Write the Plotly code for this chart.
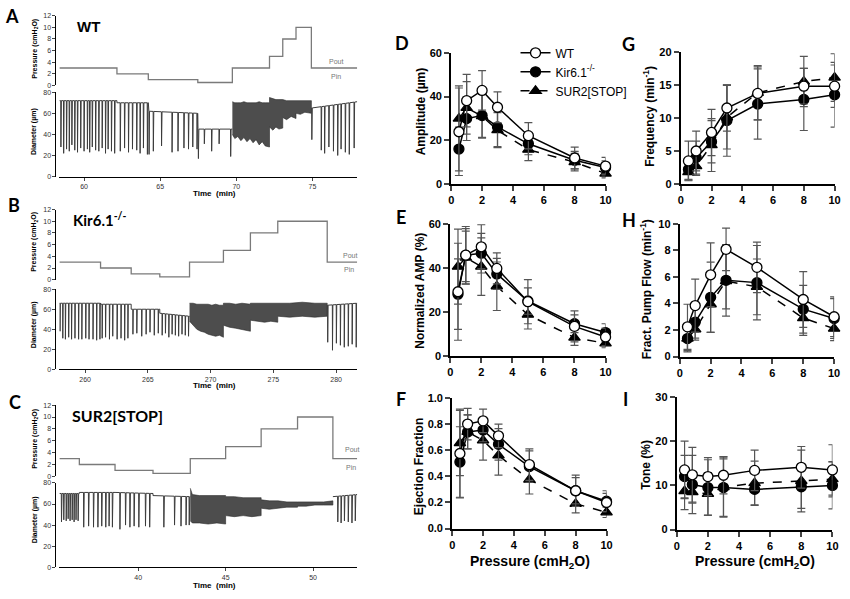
import plotly.graph_objects as go

W, H = 850, 599

# ---------------- summary data (panels D-I) ----------------
pressures = [0.5, 1, 2, 3, 5, 8, 10]
group_names = ["WT", "Kir6.1<sup>-/-</sup>", "SUR2[STOP]"]

amp_wt = [23.9, 38.1, 42.8, 35.1, 22.1, 11.9, 8.2]
amp_wt_sd = [20, 12, 9, 7, 6, 5, 4]
amp_kir = [16.0, 29.9, 31.3, 26.1, 18.4, 10.9, 7.6]
amp_kir_sd = [10, 10, 10, 9, 5, 4, 3]
amp_sur = [29.9, 34.8, 31.0, 24.6, 15.7, 10.0, 4.8]
amp_sur_sd = [15, 12, 10, 8, 5, 4, 2]

namp_wt = [29.2, 45.8, 49.6, 39.8, 24.7, 13.5, 8.7]
namp_wt_sd = [22, 13, 10, 7, 10, 7, 4]
namp_kir = [28.1, 45.8, 46.7, 37.3, 25.0, 14.7, 10.7]
namp_kir_sd = [16, 12, 9, 7, 6, 4, 4]
namp_sur = [40.6, 44.7, 40.6, 31.7, 18.8, 8.4, 5.8]
namp_sur_sd = [17, 12, 13, 11, 6.5, 3.5, 2]

ef_wt = [0.575, 0.80, 0.825, 0.71, 0.49, 0.29, 0.20]
ef_wt_sd = [0.34, 0.12, 0.09, 0.09, 0.12, 0.12, 0.07]
ef_kir = [0.51, 0.74, 0.755, 0.645, 0.475, 0.29, 0.21]
ef_kir_sd = [0.27, 0.13, 0.09, 0.12, 0.12, 0.10, 0.08]
ef_sur = [0.655, 0.74, 0.675, 0.56, 0.375, 0.19, 0.125]
ef_sur_sd = [0.25, 0.13, 0.15, 0.15, 0.11, 0.07, 0.04]

freq_wt = [3.5, 5.0, 7.8, 11.5, 13.7, 14.8, 14.8]
freq_wt_sd = [3.0, 3.0, 3.5, 3.5, 4.0, 2.7, 3.2]
freq_kir = [2.2, 4.0, 6.4, 9.6, 12.1, 12.8, 13.5]
freq_kir_sd = [1.5, 2.5, 3.2, 5.4, 5.3, 4.7, 4.9]
freq_sur = [1.8, 2.7, 5.9, 10.1, 13.8, 15.5, 16.1]
freq_sur_sd = [1.2, 1.4, 4.0, 4.8, 4.1, 3.8, 3.6]

fpf_wt = [2.24, 3.84, 6.16, 8.08, 6.72, 4.30, 3.00]
fpf_wt_sd = [1.7, 2.0, 2.4, 1.6, 1.9, 2.1, 1.5]
fpf_kir = [1.35, 2.59, 4.46, 5.74, 5.57, 3.57, 2.86]
fpf_kir_sd = [0.9, 1.2, 2.65, 2.7, 2.8, 1.8, 1.5]
fpf_sur = [1.35, 2.04, 3.94, 5.69, 5.25, 2.90, 2.10]
fpf_sur_sd = [1.0, 0.8, 2.1, 2.1, 2.1, 1.3, 0.9]

tone_wt = [13.5, 12.4, 12.0, 12.3, 13.4, 14.1, 13.5]
tone_wt_sd = [6.5, 6.2, 4.3, 4.2, 4.6, 4.7, 5.7]
tone_kir = [12.0, 10.2, 9.5, 9.5, 9.1, 9.7, 10.0]
tone_kir_sd = [4.8, 6.6, 6.3, 6.5, 3.5, 4.9, 5.3]
tone_sur = [8.7, 8.5, 8.1, 9.6, 10.5, 11.0, 11.4]
tone_sur_sd = [4.2, 2.5, 4.8, 6.8, 5.0, 7.0, 4.0]

# ---------------- raw recordings (panels A-C) ----------------
pressure_levels = [3, 2, 1, 0.5, 3, 5, 8, 10, 3, 3]

# A: WT
a_p_t = [58.38, 62.16, 64.22, 67.47, 69.74, 72.18, 73.05, 73.92, 74.93, 77.94]
a_seg_start = [58.38, 62.16, 64.22, 67.47, 74.93]
a_seg_end = [62.16, 64.22, 67.47, 69.74, 77.94]
a_base0 = [72, 70, 62, 45, 65]
a_base1 = [72, 70, 60, 45, 71]
a_dip_t = [58.48, 58.66, 58.85, 59.03, 59.20, 59.39, 59.57, 59.78, 60.00, 60.22,
           60.37, 60.54, 60.76, 60.97, 61.19, 61.41, 61.58, 61.80, 62.01,
           62.38, 62.66, 62.92, 63.18, 63.46, 63.68, 63.90, 64.16,
           64.27, 64.55, 65.09, 65.78, 66.17, 66.56, 66.86, 67.14, 67.42,
           67.51, 67.90, 68.38, 68.87, 69.63,
           74.96, 75.58, 75.80, 76.08, 76.38, 76.66, 76.88, 77.16, 77.42, 77.74]
a_dip_min = [28, 22, 26, 24, 30, 25, 23, 27, 24, 26,
             23, 28, 25, 24, 27, 22, 26, 24, 22,
             24, 27, 23, 26, 25, 22, 27, 21,
             21, 24, 29, 23, 24, 27, 26, 28, 26,
             17, 31, 24, 31, 19,
             35, 25, 22, 28, 24, 20, 26, 23, 21, 27]
a_band_t = [69.74, 69.9, 70.1, 70.3, 70.5, 70.7, 70.9, 71.1, 71.3, 71.5, 71.7, 71.9, 72.18,
            72.18, 72.4, 72.6, 72.8, 73.05,
            73.05, 73.3, 73.6, 73.92,
            73.92, 74.2, 74.5, 74.93]
a_band_top = [71, 70, 70, 70, 71, 70, 70, 70, 70, 71, 70, 70, 70,
              75, 74, 73, 73, 73,
              73, 72, 72, 72,
              72, 72, 72, 72]
a_band_bot = [40, 36, 38, 34, 37, 33, 36, 32, 35, 30, 33, 29, 28,
              47, 44, 47, 45, 46,
              56, 54, 57, 55,
              60, 59, 61, 60]

# B: Kir6.1-/-
b_p_t = [257.95, 261.23, 263.67, 265.95, 268.32, 271.02, 273.17, 275.35, 279.29, 281.68]
b_seg_start = [257.95, 261.23, 263.67, 265.95, 279.29]
b_seg_end = [261.23, 263.67, 265.95, 268.32, 281.68]
b_base0 = [66, 65, 60, 56, 64]
b_base1 = [66, 65, 60, 53, 66]
b_dip_t = [258.00, 258.22, 258.43, 258.69, 258.92, 259.19, 259.48, 259.74, 260.05, 260.31,
           260.63, 260.92, 261.18,
           261.36, 261.63, 261.94, 262.20, 262.55, 262.86, 263.15, 263.41,
           263.81, 264.12, 264.51, 264.86, 265.17, 265.51, 265.83,
           266.14, 266.40, 266.67, 266.93, 267.19, 267.45, 267.72, 267.98, 268.24,
           279.33, 279.71, 280.02, 280.34, 280.65, 280.97, 281.28, 281.60]
b_dip_min = [38, 31, 30, 32, 30, 31, 30, 30, 31, 30,
             30, 29, 30,
             31, 32, 30, 33, 30, 31, 29, 31,
             35, 36, 33, 35, 37, 34, 36,
             34, 36, 32, 35, 34, 33, 35, 34, 33,
             27, 19, 26, 24, 22, 23, 25, 22]
b_band_t = [268.32, 268.6, 268.9, 269.2, 269.5, 269.8, 270.1, 270.4, 270.7, 271.02,
            271.02, 271.5, 272.0, 272.5, 273.17,
            273.17, 273.7, 274.3, 274.8, 275.35,
            275.35, 276.3, 277.3, 278.3, 279.29]
b_band_top = [66, 66, 65, 65, 65, 65, 64, 65, 64, 64,
              66, 66, 65, 66, 65,
              66, 66, 66, 66, 66,
              66, 66, 67, 66, 66]
b_band_bot = [48, 44, 40, 38, 37, 35, 34, 33, 34, 32,
              44, 42, 41, 40, 38,
              49, 48, 47, 48, 47,
              53, 52, 53, 52, 53]

# C: SUR2[STOP]
c_p_t = [35.5, 36.64, 38.68, 40.85, 42.98, 45.0, 47.03, 49.11, 51.13, 52.52]
c_seg_start = [35.5, 36.64, 38.68, 40.85, 51.13]
c_seg_end = [36.64, 38.68, 40.85, 42.98, 52.52]
c_base0 = [70, 71, 71, 68, 67]
c_base1 = [70, 71, 70, 67, 69]
c_dip_t = [35.62, 35.75, 35.89, 36.00, 36.11, 36.23, 36.34, 36.45, 36.57,
           36.89, 37.17, 37.45, 37.70, 37.92, 38.15, 38.34, 38.53,
           38.96, 39.28, 39.53, 39.77, 40.04, 40.42, 40.66,
           41.47, 42.08, 42.45, 42.74, 42.92,
           51.41, 51.60, 51.79, 52.01, 52.22, 52.41]
c_dip_min = [43, 45, 44, 46, 44, 45, 43, 45, 44,
             38, 39, 38, 38, 39, 38, 39, 38,
             36, 40, 38, 39, 38, 39, 38,
             38, 40, 39, 40, 40,
             43, 42, 44, 43, 42, 44]
c_band_t = [42.98, 43.1, 43.5, 44.0, 44.5, 45.0,
            45.0, 45.5, 46.0, 46.5, 47.03,
            47.03, 47.5, 48.0, 48.5, 49.11,
            49.11, 49.6, 50.1, 50.6, 51.13]
c_band_top = [75, 69, 68, 68, 68, 68,
              67, 67, 66, 66, 66,
              64, 63, 63, 62, 62,
              62, 62, 62, 62, 63]
c_band_bot = [44, 42, 42, 41, 42, 41,
              49, 48, 49, 48, 49,
              56, 55, 56, 57, 57,
              58, 58, 59, 59, 59]

FONT = "Liberation Sans, Arial, sans-serif"
LETTER_FONT = "Lato, Liberation Sans, sans-serif"


def px_x(x):
    return x / W


def px_y(y):
    return 1 - y / H


fig = go.Figure()
layout = {}
annotations = []
axis_counter = [0]


def new_axes():
    axis_counter[0] += 1
    n = axis_counter[0]
    sx = "" if n == 1 else str(n)
    return "x" + sx, "y" + sx, "xaxis" + sx, "yaxis" + sx


def ann(text, x, y, size, bold=False, color="black", angle=0, family=FONT, xanchor="center"):
    annotations.append(dict(
        text=text, x=px_x(x), y=px_y(y), xref="paper", yref="paper",
        showarrow=False, textangle=angle, xanchor=xanchor, yanchor="middle",
        font=dict(family=family, size=size, color=color, weight="bold" if bold else "normal")))


def build_diameter_path(seg_start, seg_end, base0, base1, dip_t, dip_min):
    xs, ys = [], []
    for i, (s, e, b0, b1) in enumerate(zip(seg_start, seg_end, base0, base1)):
        if i > 0 and abs(s - seg_end[i - 1]) > 1e-6:
            xs.append(None)
            ys.append(None)

        def base(t):
            return b0 + (b1 - b0) * (t - s) / (e - s)
        xs.append(s)
        ys.append(b0)
        for t, m in zip(dip_t, dip_min):
            if s <= t < e:
                xs += [t - 0.012, t, t + 0.03]
                ys += [base(t - 0.012), m, base(t + 0.03)]
        xs.append(e)
        ys.append(b1)
    return xs, ys


def recording_panel(letter, label, label_pos, label_size, p_t, seg_start, seg_end, base0, base1,
                    dip_t, dip_min, band_t, band_top, band_bot, xrange, xticks,
                    p_dom, d_dom, letter_pos, pout_pos, pin_pos, ptitle_y, dtitle_y, time_y):
    x0, x1 = 57, 358
    small = dict(family=FONT, size=7, color="#333")
    # pressure axes
    xa, ya, xk, yk = new_axes()
    layout[xk] = dict(domain=[px_x(x0), px_x(x1)], range=xrange, visible=False, anchor=ya)
    layout[yk] = dict(domain=[px_y(p_dom[0]), px_y(p_dom[1])], range=[0, 12], anchor="free",
                      position=px_x(53), tickvals=list(range(0, 13, 2)), showline=True,
                      linecolor="black", linewidth=1, ticks="outside", ticklen=3, tickwidth=1,
                      tickfont=small, showgrid=False, zeroline=False)
    fig.add_trace(go.Scatter(x=p_t, y=pressure_levels, mode="lines", line=dict(color="#7a7a7a", width=1.3, shape="hv"),
                             xaxis=xa, yaxis=ya, showlegend=False, hoverinfo="skip"))
    # diameter axes
    xa, ya, xk, yk = new_axes()
    layout[xk] = dict(domain=[px_x(x0), px_x(x1)], range=xrange, anchor=ya, tickvals=xticks,
                      showline=True, linecolor="black", linewidth=1, ticks="outside", ticklen=3, tickwidth=1,
                      tickfont=small, showgrid=False, zeroline=False)
    layout[yk] = dict(domain=[px_y(d_dom[0]), px_y(d_dom[1])], range=[0, 80], anchor="free",
                      position=px_x(53), tickvals=[0, 20, 40, 60, 80], showline=True,
                      linecolor="black", linewidth=1, ticks="outside", ticklen=3, tickwidth=1,
                      tickfont=small, showgrid=False, zeroline=False)
    bx = list(band_t) + list(band_t)[::-1]
    by = list(band_top) + list(band_bot)[::-1]
    fig.add_trace(go.Scatter(x=bx, y=by, mode="lines", fill="toself", fillcolor="#4d4d4d",
                             line=dict(color="#2a2a2a", width=0.6), xaxis=xa, yaxis=ya,
                             showlegend=False, hoverinfo="skip"))
    xs, ys = build_diameter_path(seg_start, seg_end, base0, base1, dip_t, dip_min)
    fig.add_trace(go.Scatter(x=xs, y=ys, mode="lines", line=dict(color="#3c3c3c", width=1),
                             xaxis=xa, yaxis=ya, showlegend=False, hoverinfo="skip", connectgaps=False))
    # text
    ann(letter, letter_pos[0], letter_pos[1], 18, bold=True, family=LETTER_FONT)
    ann(label, label_pos[0], label_pos[1], label_size, bold=True, family=LETTER_FONT if letter != "A" else FONT)
    ann("Pout", pout_pos[0], pout_pos[1], 7, color="#777")
    ann("Pin", pin_pos[0], pin_pos[1], 7, color="#777")
    ann("Pressure (cmH<sub>2</sub>O)", 32, ptitle_y, 7, bold=True, angle=-90)
    ann("Diameter (µm)", 32, dtitle_y, 7, bold=True, angle=-90)
    ann("Time  (min)", 214, time_y, 8, bold=True)


recording_panel("A", "WT", (86, 21), 15, a_p_t, a_seg_start, a_seg_end, a_base0, a_base1,
                a_dip_t, a_dip_min, a_band_t, a_band_top, a_band_bot, [58.38, 77.94], [60, 65, 70, 75],
                (81, 10), (174, 88), (9, 10), (337, 57), (337, 72), 44, 128, 191)
recording_panel("B", "Kir6.1<sup>-/-</sup>", (98, 218), 15, b_p_t, b_seg_start, b_seg_end, b_base0, b_base1,
                b_dip_t, b_dip_min, b_band_t, b_band_top, b_band_bot, [257.95, 281.68], [260, 265, 270, 275, 280],
                (279.3, 207.7), (370.7, 289), (11, 203), (351, 255), (350, 268.5), 241, 325, 387)
recording_panel("C", "SUR2[STOP]", (116, 418), 16, c_p_t, c_seg_start, c_seg_end, c_base0, c_base1,
                c_dip_t, c_dip_min, c_band_t, c_band_top, c_band_bot, [35.5, 52.52], [40, 45, 50],
                (480, 407.3), (572.7, 486.7), (12, 404), (353, 453), (352, 471), 442, 524, 591)

# ---------------- summary panels ----------------
panels = [
    dict(letter="D", lpos=(403, 38), data=(amp_wt, amp_wt_sd, amp_kir, amp_kir_sd, amp_sur, amp_sur_sd),
         xd=(453, 609), yd=(181.7, 47.7), yr=[0, 60], dt=20, fmt=None,
         title="Amplitude (µm)", tpos=(422, 108), legend=True),
    dict(letter="E", lpos=(402, 215), data=(namp_wt, namp_wt_sd, namp_kir, namp_kir_sd, namp_sur, namp_sur_sd),
         xd=(452, 609), yd=(357.3, 222.3), yr=[0, 60], dt=20, fmt=None,
         title="Normalized AMP (%)", tpos=(422, 291)),
    dict(letter="F", lpos=(402, 401), data=(ef_wt, ef_wt_sd, ef_kir, ef_kir_sd, ef_sur, ef_sur_sd),
         xd=(454, 610), yd=(533.3, 400), yr=[0, 1], dt=0.2, fmt=".1f",
         title="Ejection Fraction", tpos=(420, 470), xtitle=(533, 567)),
    dict(letter="G", lpos=(632, 39), data=(freq_wt, freq_wt_sd, freq_kir, freq_kir_sd, freq_sur, freq_sur_sd),
         xd=(685, 840.5), yd=(181.7, 46.7), yr=[0, 20], dt=5, fmt=None,
         title="Frequency (min<sup>-1</sup>)", tpos=(653, 113)),
    dict(letter="H", lpos=(633, 218), data=(fpf_wt, fpf_wt_sd, fpf_kir, fpf_kir_sd, fpf_sur, fpf_sur_sd),
         xd=(684, 840), yd=(357.7, 222.3), yr=[0, 10], dt=2, fmt=None,
         title="Fract. Pump Flow (min<sup>-1</sup>)", tpos=(650, 289)),
    dict(letter="I", lpos=(629, 401), data=(tone_wt, tone_wt_sd, tone_kir, tone_kir_sd, tone_sur, tone_sur_sd),
         xd=(681, 838.3), yd=(534.3, 399), yr=[0, 30], dt=10, fmt=None,
         title="Tone (%)", tpos=(650, 468), xtitle=(760, 567)),
]

styles = [
    dict(symbol="circle", size=10, fill="white", dash="solid", rank=1),   # WT
    dict(symbol="circle", size=10, fill="black", dash="solid", rank=2),   # Kir
    dict(symbol="triangle-up", size=10, fill="black", dash="dash", rank=3),  # SUR2
]

for p in panels:
    xa, ya, xk, yk = new_axes()
    tickfont = dict(family=FONT, size=11, color="black", weight="bold")
    layout[xk] = dict(domain=[px_x(p["xd"][0]), px_x(p["xd"][1])], range=[0, 10], anchor=ya,
                      tickvals=[0, 2, 4, 6, 8, 10], showline=True, linecolor="black", linewidth=2,
                      ticks="outside", ticklen=5, tickwidth=2, tickfont=tickfont,
                      showgrid=False, zeroline=False)
    yk_dict = dict(domain=[px_y(p["yd"][0]), px_y(p["yd"][1])], range=p["yr"], anchor=xa,
                   dtick=p["dt"], tick0=0, showline=True, linecolor="black", linewidth=2,
                   ticks="outside", ticklen=5, tickwidth=2, tickfont=tickfont,
                   showgrid=False, zeroline=False)
    if p["fmt"]:
        yk_dict["tickformat"] = p["fmt"]
    layout[yk] = yk_dict
    vals = p["data"]
    series = [(vals[0], vals[1]), (vals[2], vals[3]), (vals[4], vals[5])]
    for gi in [2, 1, 0]:
        st = styles[gi]
        y, sd = series[gi]
        fig.add_trace(go.Scatter(
            x=pressures, y=y, mode="lines+markers", name=group_names[gi],
            legendrank=st["rank"], showlegend=bool(p.get("legend")),
            line=dict(color="black", width=1.5, dash=st["dash"]),
            marker=dict(symbol=st["symbol"], size=st["size"], color=st["fill"],
                        line=dict(color="black", width=1.3)),
            error_y=dict(type="data", array=sd, visible=True, color="#555", thickness=1.2, width=4),
            xaxis=xa, yaxis=ya, cliponaxis=False, hoverinfo="skip"))
    ann(p["letter"], p["lpos"][0], p["lpos"][1], 18, bold=True, family=LETTER_FONT)
    ann(p["title"], p["tpos"][0], p["tpos"][1], 12, bold=True, angle=-90)
    if p.get("xtitle"):
        ann("Pressure (cmH<sub>2</sub>O)", p["xtitle"][0], p["xtitle"][1], 14, bold=True)

fig.update_layout(
    **layout,
    width=W, height=H,
    margin=dict(l=0, r=0, t=0, b=0),
    paper_bgcolor="white", plot_bgcolor="rgba(0,0,0,0)",
    annotations=annotations,
    showlegend=True,
    legend=dict(x=px_x(518), y=px_y(33), xanchor="left", yanchor="top",
                font=dict(family=FONT, size=12, color="black"), bgcolor="rgba(0,0,0,0)",
                tracegroupgap=0, itemwidth=30),
)

fig.write_html("out.html", config={"displayModeBar": False},
               post_script="document.body.style.margin='0';document.body.style.overflow='hidden';")
